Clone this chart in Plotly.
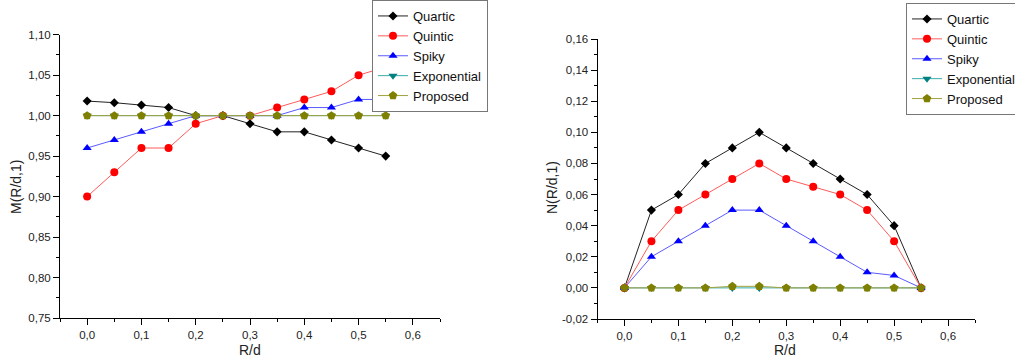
import plotly.graph_objects as go

# ---------------- data ----------------
r_over_d = [0.0, 0.05, 0.10, 0.15, 0.20, 0.25, 0.30, 0.35, 0.40, 0.45, 0.50, 0.55]

series_names = ["Quartic", "Quintic", "Spiky", "Exponential", "Proposed"]

m_quartic = [1.018, 1.016, 1.013, 1.010, 1.000, 1.000, 0.990, 0.980, 0.980, 0.970, 0.960, 0.950]
m_quintic = [0.900, 0.930, 0.960, 0.960, 0.990, 1.000, 1.000, 1.010, 1.020, 1.030, 1.050, 1.060]
m_spiky = [0.960, 0.970, 0.980, 0.990, 1.000, 1.000, 1.000, 1.000, 1.010, 1.010, 1.020, 1.020]
m_exponential = [1.000, 1.000, 1.000, 1.000, 1.000, 1.000, 1.000, 1.000, 1.000, 1.000, 1.000, 1.000]
m_proposed = [1.000, 1.000, 1.000, 1.000, 1.000, 1.000, 1.000, 1.000, 1.000, 1.000, 1.000, 1.000]

n_quartic = [0.000, 0.050, 0.060, 0.080, 0.090, 0.100, 0.090, 0.080, 0.070, 0.060, 0.040, 0.000]
n_quintic = [0.000, 0.030, 0.050, 0.060, 0.070, 0.080, 0.070, 0.065, 0.060, 0.050, 0.030, 0.000]
n_spiky = [0.000, 0.020, 0.030, 0.040, 0.050, 0.050, 0.040, 0.030, 0.020, 0.010, 0.008, 0.000]
n_exponential = [0.000, 0.000, 0.000, 0.000, 0.000, 0.000, 0.000, 0.000, 0.000, 0.000, 0.000, 0.000]
n_proposed = [0.000, 0.000, 0.000, 0.000, 0.001, 0.001, 0.000, 0.000, 0.000, 0.000, 0.000, 0.000]

x_tickvals = [0.0, 0.1, 0.2, 0.3, 0.4, 0.5, 0.6]
x_ticktext = ["0,0", "0,1", "0,2", "0,3", "0,4", "0,5", "0,6"]
m_tickvals = [0.75, 0.80, 0.85, 0.90, 0.95, 1.00, 1.05, 1.10]
m_ticktext = ["0,75", "0,80", "0,85", "0,90", "0,95", "1,00", "1,05", "1,10"]
n_tickvals = [-0.02, 0.00, 0.02, 0.04, 0.06, 0.08, 0.10, 0.12, 0.14, 0.16]
n_ticktext = ["-0,02", "0,00", "0,02", "0,04", "0,06", "0,08", "0,10", "0,12", "0,14", "0,16"]

x_title = "R/d"
m_title = "M(R/d,1)"
n_title = "N(R/d,1)"

# ---------------- styles ----------------
W, H = 1015, 363
FONT = "Liberation Sans, Arial, sans-serif"
line_colors = ["#222222", "#ff5a5a", "#5a5aff", "#3aaaaa", "#a0a040"]
marker_colors = ["#000000", "#ff0000", "#0000ff", "#008080", "#808000"]
symbols = ["diamond", "circle", "triangle-up", "triangle-down", "pentagon"]
sizes = [7, 8, 8, 8, 9]

fig = go.Figure()

m_series = [m_quartic, m_quintic, m_spiky, m_exponential, m_proposed]
n_series = [n_quartic, n_quintic, n_spiky, n_exponential, n_proposed]

for i, name in enumerate(series_names):
    fig.add_trace(go.Scatter(
        x=r_over_d, y=m_series[i], name=name, mode="lines+markers",
        xaxis="x", yaxis="y", legend="legend",
        line=dict(color=line_colors[i], width=1),
        marker=dict(symbol=symbols[i], size=sizes[i], color=marker_colors[i], line=dict(width=0)),
    ))
for i, name in enumerate(series_names):
    fig.add_trace(go.Scatter(
        x=r_over_d, y=n_series[i], name=name, mode="lines+markers",
        xaxis="x2", yaxis="y2", legend="legend2",
        line=dict(color=line_colors[i], width=1),
        marker=dict(symbol=symbols[i], size=sizes[i], color=marker_colors[i], line=dict(width=0)),
    ))


def mids(vals):
    return [(a + b) / 2 for a, b in zip(vals[:-1], vals[1:])]


def px_x(p):
    return p / W


def px_y(p):
    return 1 - p / H


axis_common = dict(
    showline=True, linecolor="black", linewidth=1, mirror=False,
    ticks="outside", ticklen=6, tickwidth=1, tickcolor="black",
    showgrid=False, zeroline=False, automargin=False,
    tickfont=dict(family=FONT, size=11.5, color="#222"),
    tickmode="array",
)

x_minor = dict(tickvals=mids(x_tickvals) + [-0.05, 0.65], ticks="outside", ticklen=3, tickcolor="black", showgrid=False)

title_font = dict(family=FONT, size=14, color="#222")

fig.update_layout(
    template="none",
    width=W, height=H,
    margin=dict(l=0, r=0, t=0, b=0, pad=0, autoexpand=False),
    plot_bgcolor="white", paper_bgcolor="white",
    font=dict(family=FONT, color="#222"),
    xaxis=dict(axis_common, domain=[px_x(60), px_x(440)], range=[-0.05, 0.65],
               tickvals=x_tickvals, ticktext=x_ticktext, anchor="y", minor=x_minor),
    yaxis=dict(axis_common, domain=[px_y(318), px_y(34.7)], range=[0.75, 1.10],
               tickvals=m_tickvals, ticktext=m_ticktext, anchor="x",
               minor=dict(tickvals=mids(m_tickvals), ticks="outside", ticklen=3, tickcolor="black", showgrid=False)),
    xaxis2=dict(axis_common, domain=[px_x(597.5), px_x(975)], range=[-0.05, 0.65],
                tickvals=x_tickvals, ticktext=x_ticktext, anchor="y2", minor=x_minor),
    yaxis2=dict(axis_common, domain=[px_y(319), px_y(39)], range=[-0.02, 0.16],
                tickvals=n_tickvals, ticktext=n_ticktext, anchor="x2",
                minor=dict(tickvals=mids(n_tickvals), ticks="outside", ticklen=3, tickcolor="black", showgrid=False)),
    legend=dict(x=px_x(372), y=px_y(0), xanchor="left", yanchor="top",
                bgcolor="white", bordercolor="#777", borderwidth=1,
                font=dict(family=FONT, size=13, color="#111"), itemwidth=30,
                tracegroupgap=0),
    legend2=dict(x=px_x(906), y=px_y(3), xanchor="left", yanchor="top",
                 bgcolor="white", bordercolor="#777", borderwidth=1,
                 font=dict(family=FONT, size=13, color="#111"), itemwidth=30,
                 tracegroupgap=0),
    showlegend=True,
    annotations=[
        dict(text=m_title, x=px_x(16), y=px_y(187), xref="paper", yref="paper",
             xanchor="center", yanchor="middle", textangle=-90, showarrow=False, font=title_font),
        dict(text=n_title, x=px_x(552), y=px_y(188), xref="paper", yref="paper",
             xanchor="center", yanchor="middle", textangle=-90, showarrow=False, font=title_font),
        dict(text=x_title, x=px_x(250), y=px_y(350), xref="paper", yref="paper",
             xanchor="center", yanchor="middle", showarrow=False, font=title_font),
        dict(text=x_title, x=px_x(785), y=px_y(350), xref="paper", yref="paper",
             xanchor="center", yanchor="middle", showarrow=False, font=title_font),
    ],
)

fig.write_html(
    "out.html",
    config={"displayModeBar": False},
    post_script="document.body.style.margin='0';document.body.style.padding='0';document.body.style.overflow='hidden';",
)
